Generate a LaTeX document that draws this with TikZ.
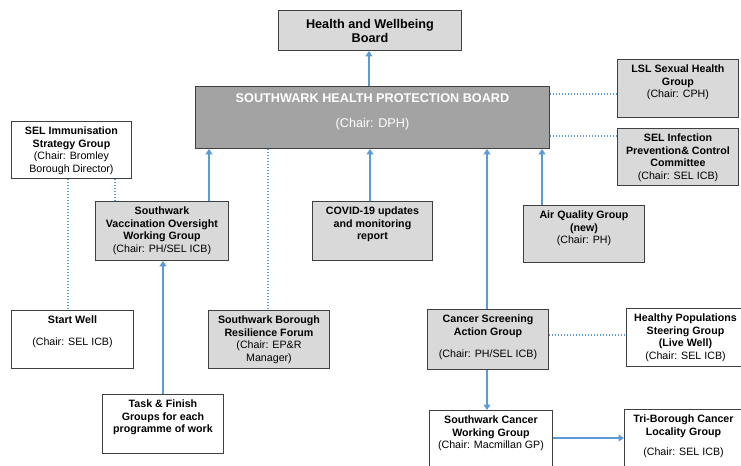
\documentclass[tikz,border=0pt]{standalone}
\usepackage{fontspec}
\setmainfont{Liberation Sans}
\usetikzlibrary{arrows.meta}
\definecolor{linkblue}{HTML}{5B9BD5}
\definecolor{boxgray}{HTML}{D9D9D9}
\definecolor{boardgray}{HTML}{A3A3A3}
\definecolor{boxline}{HTML}{404040}
\newlength\pxu
\setlength\pxu{0.75pt}
\newcommand{\boxtxt}[4][4pt]{\parbox[c][#3\pxu][t]{#2\pxu}{\centering\vspace{#1}#4\par}}
\tikzset{
 grp/.style={draw=boxline, line width=0.7pt, inner sep=0pt, anchor=north west, fill=white, font=\fontsize{8}{9.5}\selectfont},
 lite/.style={grp, fill=boxgray},
 board/.style={grp, fill=boardgray, text=white, font=\fontsize{9.5}{12}\selectfont},
 link/.style={draw=linkblue, line width=1.4pt, -{Triangle[width=5pt,length=4pt]}},
 dotlink/.style={draw=linkblue, line width=1.3pt, dash pattern=on 1.1pt off 1.15pt},
}
\begin{document}
\begin{tikzpicture}[x=0.75pt,y=-0.75pt]
\clip (0,0) rectangle (741,465);
\node[lite, font=\fontsize{9.5}{11}\selectfont] (hwb) at (278,10) {\boxtxt[6.4pt]{183}{40}{\textbf{Health and Wellbeing\\Board}}};
\node[board] (pb) at (195,86) {\boxtxt[5.6pt]{354}{62}{\textbf{SOUTHWARK HEALTH PROTECTION BOARD}\\[6.5pt](Chair: DPH)}};
\node[grp] (selimm) at (11,121) {\boxtxt{120}{57}{\textbf{SEL Immunisation\\Strategy Group}\\(Chair: Bromley\\Borough Director)}};
\node[lite] (lsl) at (617,59) {\boxtxt{121}{58}{\textbf{LSL Sexual Health\\Group}\\(Chair: CPH)}};
\node[lite] (selinf) at (617,128) {\boxtxt{121}{57}{\textbf{SEL Infection\\Prevention\& Control\\Committee}\\(Chair: SEL ICB)}};
\node[lite] (vog) at (95,201) {\boxtxt{133}{59}{\textbf{Southwark\\Vaccination Oversight\\Working Group}\\(Chair: PH/SEL ICB)}};
\node[lite] (covid) at (312,201) {\boxtxt{120}{59}{\textbf{COVID-19 updates\\and monitoring\\report}}};
\node[lite] (aqg) at (523,205) {\boxtxt{121}{57}{\textbf{Air Quality Group\\(new)}\\(Chair: PH)}};
\node[grp] (startwell) at (11,310) {\boxtxt{122}{58}{\textbf{Start Well}\\[7pt](Chair: SEL ICB)}};
\node[lite] (sbrf) at (208,310) {\boxtxt{121}{58}{\textbf{Southwark Borough\\Resilience Forum}\\(Chair: EP\&R\\Manager)}};
\node[grp] (tfg) at (102,394) {\boxtxt{121}{59}{\textbf{Task \& Finish\\Groups for each\\programme of work}}};
\node[lite] (csag) at (427,309) {\boxtxt{121}{60}{\textbf{Cancer Screening\\Action Group}\\[7pt](Chair: PH/SEL ICB)}};
\node[grp] (hpsg) at (626,308) {\boxtxt{118}{58}{\textbf{Healthy Populations\\Steering Group\\(Live Well)}\\(Chair: SEL ICB)}};
\node[grp] (scwg) at (429,410) {\boxtxt{123}{62}{\textbf{Southwark Cancer\\Working Group}\\(Chair: Macmillan GP)}};
\node[grp] (tbcl) at (624,409) {\boxtxt{118}{62}{\textbf{Tri-Borough Cancer\\Locality Group}\\[6pt](Chair: SEL ICB)}};
\draw[link] (369,0 |- pb.north) -- (369,0 |- hwb.south);
\draw[link] (209,0 |- vog.north) -- (209,0 |- pb.south);
\draw[link] (370,0 |- covid.north) -- (370,0 |- pb.south);
\draw[link] (542,0 |- aqg.north) -- (542,0 |- pb.south);
\draw[link] (487,0 |- csag.north) -- (487,0 |- pb.south);
\draw[link] (487,0 |- csag.south) -- (487,0 |- scwg.north);
\draw[link] (scwg.east |- 0,438) -- (tbcl.west |- 0,438);
\draw[link] (163,0 |- tfg.north) -- (163,0 |- vog.south);
\draw[dotlink] (68,0 |- selimm.south) -- (68,0 |- startwell.north);
\draw[dotlink] (115,0 |- selimm.south) -- (115,0 |- vog.north);
\draw[dotlink] (268,0 |- pb.south) -- (268,0 |- sbrf.north);
\draw[dotlink] (pb.east |- 0,94) -- (lsl.west |- 0,94);
\draw[dotlink] (pb.east |- 0,136) -- (selinf.west |- 0,136);
\draw[dotlink] (csag.east |- 0,335) -- (hpsg.west |- 0,335);
\end{tikzpicture}
\end{document}
